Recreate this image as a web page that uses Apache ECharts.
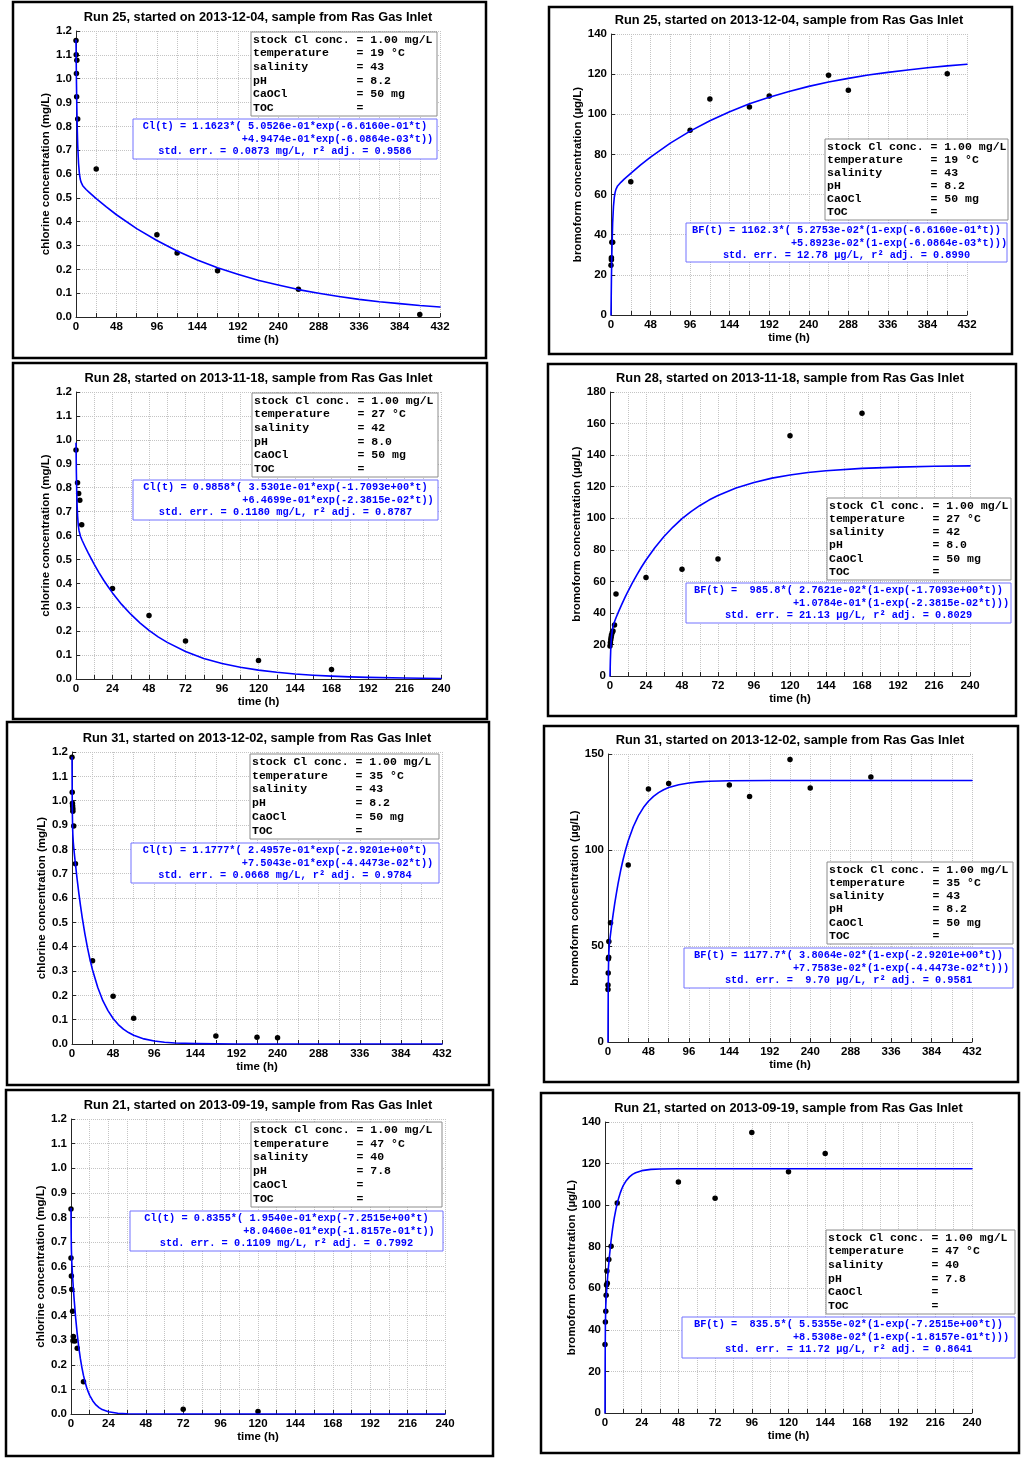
<!DOCTYPE html>
<html>
<head>
<meta charset="utf-8">
<title>Chlorine decay and bromoform formation, Ras Gas Inlet</title>
<script src="https://cdn.jsdelivr.net/npm/echarts@6/dist/echarts.min.js"></script>
<style>
  html, body { margin: 0; padding: 0; background: #fff; }
  #chart { width: 1024px; height: 1460px; }
</style>
</head>
<body>
<div id="chart"></div>
<script>
// ---- tick labels ----
const timeTicks432 = [0, 48, 96, 144, 192, 240, 288, 336, 384, 432];
const timeTicks240 = [0, 24, 48, 72, 96, 120, 144, 168, 192, 216, 240];
const clTicks = [0, 0.1, 0.2, 0.3, 0.4, 0.5, 0.6, 0.7, 0.8, 0.9, 1.0, 1.1, 1.2];
const bf140Ticks = [0, 20, 40, 60, 80, 100, 120, 140];
const bf180Ticks = [0, 20, 40, 60, 80, 100, 120, 140, 160, 180];
const bf150Ticks = [0, 50, 100, 150];

// ---- measured samples [time h, value] ----
const run25ClPoints = [[0, 1.16], [0.25, 1.10], [1, 1.077], [0.5, 1.022], [0.75, 0.924], [2, 0.831],
    [24, 0.621], [96, 0.345], [120, 0.269], [168, 0.194], [264, 0.116], [408, 0.010]];
const run25BfPoints = [[0, 24.8], [0.5, 27.5], [0.5, 28.5], [1, 36.2], [2, 36.2], [24, 66.4],
    [96, 92.0], [120, 107.6], [168, 103.6], [192, 109.1], [264, 119.4], [288, 112.0], [408, 120.2]];
const run28ClPoints = [[0, 0.957], [1, 0.821], [1.75, 0.776], [2.5, 0.747], [3.75, 0.645],
    [24, 0.378], [48, 0.266], [72, 0.159], [120, 0.077], [168, 0.040]];
const run28BfPoints = [[0, 19.0], [0.25, 21.0], [0.5, 23.0], [0.75, 24.5], [1, 26.0], [1.5, 27.5],
    [2, 28.5], [3, 32.3], [4, 52.0], [24, 62.5], [48, 67.6], [72, 74.1], [120, 152.3], [168, 166.5]];
const run31ClPoints = [[0, 1.178], [0.25, 1.035], [0.5, 0.989], [0.75, 0.978], [1, 0.967], [1, 0.956],
    [2, 0.896], [4, 0.741], [24, 0.342], [48, 0.196], [72, 0.106], [168, 0.033], [216, 0.028], [240, 0.026]];
const run31BfPoints = [[0, 27.4], [0, 29.7], [0.25, 35.9], [0.5, 43.4], [0.75, 44.1], [1, 52.3], [3, 62.1],
    [24, 92.2], [48, 131.8], [72, 134.6], [144, 133.9], [168, 127.8], [216, 147.2], [240, 132.3], [312, 138.0]];
const run21ClPoints = [[0, 0.834], [0, 0.635], [0.25, 0.561], [0.5, 0.506], [1, 0.418], [1.5, 0.315],
    [1.25, 0.298], [2.5, 0.297], [4, 0.267], [8, 0.131], [72, 0.019], [120, 0.010]];
const run21BfPoints = [[0, 33.0], [0.25, 43.8], [0.5, 48.9], [0.75, 56.6], [1, 61.6], [1.5, 62.4],
    [1.25, 68.3], [2.5, 73.8], [4, 80.2], [8, 101.0], [48, 111.1], [72, 103.3], [96, 135.0], [120, 116.1], [144, 124.9]];

// ---- fitted curves ----
const run25ClFit = [[0, 1.162], [0.5, 0.995], [1, 0.875], [1.5, 0.788], [2, 0.724], [3, 0.645], [4, 0.603],
    [5, 0.579], [6, 0.566], [8, 0.551], [12, 0.535], [16, 0.522], [24, 0.497], [36, 0.462], [48, 0.429],
    [72, 0.371], [96, 0.321], [120, 0.277], [144, 0.239], [168, 0.207], [192, 0.179], [216, 0.154],
    [240, 0.134], [264, 0.115], [288, 0.100], [312, 0.086], [336, 0.074], [360, 0.064], [384, 0.056],
    [408, 0.048], [432, 0.042]];
const run25BfFit = [[0, 0], [0.5, 17.5], [1, 30.1], [2, 45.8], [3, 54.1], [4, 58.6], [5, 61.1], [6, 62.6],
    [8, 64.3], [12, 66.1], [16, 67.7], [24, 70.6], [36, 74.8], [48, 78.7], [72, 85.6], [96, 91.6],
    [120, 96.8], [144, 101.3], [168, 105.2], [192, 108.5], [216, 111.4], [240, 113.9], [264, 116.1],
    [288, 117.9], [312, 119.6], [336, 120.9], [360, 122.1], [384, 123.2], [408, 124.1], [432, 124.9]];
const run28ClFit = [[0, 0.986], [0.25, 0.861], [0.5, 0.778], [0.75, 0.723], [1, 0.686], [1.5, 0.642],
    [2, 0.620], [3, 0.596], [4, 0.580], [6, 0.553], [8, 0.527], [10, 0.503], [12, 0.479], [15, 0.446],
    [18, 0.415], [21, 0.387], [24, 0.360], [30, 0.312], [36, 0.271], [42, 0.235], [48, 0.203], [54, 0.176],
    [60, 0.153], [72, 0.115], [84, 0.086], [96, 0.065], [108, 0.049], [120, 0.037], [132, 0.028],
    [144, 0.021], [156, 0.016], [168, 0.012], [180, 0.009], [192, 0.007], [216, 0.004], [240, 0.002]];
const run28BfFit = [[0, 0], [0.25, 10.1], [0.5, 16.9], [0.75, 21.6], [1, 24.8], [1.5, 28.9], [2, 31.3],
    [3, 34.4], [4, 36.9], [6, 41.4], [8, 45.7], [10, 49.8], [12, 53.7], [15, 59.2], [18, 64.3], [21, 69.1],
    [24, 73.5], [30, 81.5], [36, 88.4], [42, 94.4], [48, 99.7], [54, 104.2], [60, 108.1], [66, 111.5],
    [72, 114.4], [84, 119.2], [96, 122.7], [108, 125.4], [120, 127.4], [132, 129.0], [144, 130.1],
    [168, 131.6], [192, 132.4], [216, 132.9], [240, 133.2]];
const run31ClFit = [[0, 1.178], [0.25, 1.016], [0.5, 0.933], [0.75, 0.888], [1, 0.861], [1.5, 0.830],
    [2, 0.809], [3, 0.773], [4, 0.740], [6, 0.677], [8, 0.619], [10, 0.567], [12, 0.518], [15, 0.454],
    [18, 0.397], [21, 0.347], [24, 0.304], [30, 0.233], [36, 0.178], [42, 0.137], [48, 0.105], [54, 0.080],
    [60, 0.061], [66, 0.047], [72, 0.036], [84, 0.021], [96, 0.012], [108, 0.007], [120, 0.004],
    [144, 0.0015], [192, 0.0002], [288, 0], [432, 0]];
const run31BfFit = [[0, 0], [0.1, 11.8], [0.25, 24.2], [0.5, 36.4], [0.75, 42.8], [1, 46.4], [1.5, 50.2],
    [2, 52.5], [3, 56.2], [4, 59.7], [6, 66.2], [8, 72.2], [10, 77.6], [12, 82.6], [15, 89.3], [18, 95.2],
    [21, 100.3], [24, 104.8], [30, 112.1], [36, 117.8], [42, 122.1], [48, 125.4], [54, 127.9], [60, 129.9],
    [66, 131.4], [72, 132.5], [84, 134.0], [96, 134.9], [108, 135.5], [120, 135.8], [144, 136.1],
    [192, 136.2], [288, 136.2], [432, 136.2]];
const run21ClFit = [[0, 0.836], [0.05, 0.780], [0.1, 0.739], [0.25, 0.669], [0.5, 0.618], [1, 0.561],
    [1.5, 0.512], [2, 0.468], [3, 0.390], [4, 0.325], [5, 0.271], [6, 0.226], [7, 0.189], [8, 0.157],
    [9, 0.131], [10, 0.109], [11, 0.091], [12, 0.076], [14, 0.053], [16, 0.037], [18, 0.026], [20, 0.018],
    [24, 0.009], [30, 0.003], [36, 0.001], [48, 0], [240, 0]];
const run21BfFit = [[0, 0], [0.05, 14.7], [0.1, 25.1], [0.25, 41.9], [0.5, 51.2], [0.75, 55.1], [1, 58.1],
    [1.5, 63.2], [2, 68.0], [3, 76.2], [4, 83.1], [5, 88.8], [6, 93.6], [7, 97.5], [8, 100.9], [9, 103.6],
    [10, 105.9], [11, 107.9], [12, 109.5], [14, 111.9], [16, 113.6], [18, 114.8], [20, 115.6], [24, 116.6],
    [30, 117.2], [36, 117.4], [48, 117.5], [240, 117.5]];

// ---- run conditions ----
const infoLabels = ['stock Cl conc.', 'temperature', 'salinity', 'pH', 'CaOCl', 'TOC'];
const run25Info = ['1.00 mg/L', '19 °C', '43', '8.2', '50 mg', ''];
const run28Info = ['1.00 mg/L', '27 °C', '42', '8.0', '50 mg', ''];
const run31Info = ['1.00 mg/L', '35 °C', '43', '8.2', '50 mg', ''];
const run21Info = ['1.00 mg/L', '47 °C', '40', '7.8', '', ''];

// ---- fit annotations ----
const run25ClText = ['Cl(t) = 1.1623*( 5.0526e-01*exp(-6.6160e-01*t)', '+4.9474e-01*exp(-6.0864e-03*t))',
    'std. err. = 0.0873 mg/L, r² adj. = 0.9586'];
const run25BfText = ['BF(t) = 1162.3*( 5.2753e-02*(1-exp(-6.6160e-01*t))', '+5.8923e-02*(1-exp(-6.0864e-03*t)))',
    'std. err. = 12.78 µg/L, r² adj. = 0.8990'];
const run28ClText = ['Cl(t) = 0.9858*( 3.5301e-01*exp(-1.7093e+00*t)', '+6.4699e-01*exp(-2.3815e-02*t))',
    'std. err. = 0.1180 mg/L, r² adj. = 0.8787'];
const run28BfText = ['BF(t) =  985.8*( 2.7621e-02*(1-exp(-1.7093e+00*t))', '+1.0784e-01*(1-exp(-2.3815e-02*t)))',
    'std. err. = 21.13 µg/L, r² adj. = 0.8029'];
const run31ClText = ['Cl(t) = 1.1777*( 2.4957e-01*exp(-2.9201e+00*t)', '+7.5043e-01*exp(-4.4473e-02*t))',
    'std. err. = 0.0668 mg/L, r² adj. = 0.9784'];
const run31BfText = ['BF(t) = 1177.7*( 3.8064e-02*(1-exp(-2.9201e+00*t))', '+7.7583e-02*(1-exp(-4.4473e-02*t)))',
    'std. err. =  9.70 µg/L, r² adj. = 0.9581'];
const run21ClText = ['Cl(t) = 0.8355*( 1.9540e-01*exp(-7.2515e+00*t)', '+8.0460e-01*exp(-1.8157e-01*t))',
    'std. err. = 0.1109 mg/L, r² adj. = 0.7992'];
const run21BfText = ['BF(t) =  835.5*( 5.5355e-02*(1-exp(-7.2515e+00*t))', '+8.5308e-02*(1-exp(-1.8157e-01*t)))',
    'std. err. = 11.72 µg/L, r² adj. = 0.8641'];

const CL_NAME = 'chlorine concentration (mg/L)';
const BF_NAME = 'bromoform concentration (µg/L)';

// panel boxes in page pixels: frame / plot / info box / fit box  [x, y, w, h]
const layouts = [
    { frame: [13, 2, 473, 356],    grid: [76, 31, 364, 286],    info: [251, 32, 186, 84],    fit: [133, 119, 304, 40], nameGap: 22 },
    { frame: [549, 7, 463, 347],   grid: [611, 34, 356, 281],   info: [825, 139, 183, 81],   fit: [686, 223, 321, 39], nameGap: 26 },
    { frame: [13, 363, 474, 356],  grid: [76, 392, 365, 287],   info: [252, 393, 186, 84],   fit: [133, 480, 305, 40], nameGap: 22 },
    { frame: [548, 364, 468, 352], grid: [610, 392, 360, 284],  info: [827, 498, 184, 82],   fit: [686, 583, 325, 40], nameGap: 26 },
    { frame: [7, 722, 482, 363],   grid: [72, 752, 370, 292],   info: [250, 754, 189, 85],   fit: [131, 843, 308, 40], nameGap: 23 },
    { frame: [544, 726, 474, 356], grid: [608, 754, 364, 288],  info: [827, 862, 186, 82],   fit: [684, 948, 329, 40], nameGap: 26 },
    { frame: [6, 1090, 487, 366],  grid: [71, 1119, 374, 295],  info: [251, 1122, 191, 85],  fit: [130, 1211, 313, 40], nameGap: 24 },
    { frame: [541, 1093, 478, 360], grid: [605, 1122, 367, 291], info: [826, 1230, 189, 84], fit: [682, 1317, 333, 41], nameGap: 27 }
];

const panels = [
    { run: 'Run 25, started on 2013-12-04', points: run25ClPoints, fit: run25ClFit, xTicks: timeTicks432, yTicks: clTicks, yName: CL_NAME, info: run25Info, note: run25ClText },
    { run: 'Run 25, started on 2013-12-04', points: run25BfPoints, fit: run25BfFit, xTicks: timeTicks432, yTicks: bf140Ticks, yName: BF_NAME, info: run25Info, note: run25BfText },
    { run: 'Run 28, started on 2013-11-18', points: run28ClPoints, fit: run28ClFit, xTicks: timeTicks240, yTicks: clTicks, yName: CL_NAME, info: run28Info, note: run28ClText },
    { run: 'Run 28, started on 2013-11-18', points: run28BfPoints, fit: run28BfFit, xTicks: timeTicks240, yTicks: bf180Ticks, yName: BF_NAME, info: run28Info, note: run28BfText },
    { run: 'Run 31, started on 2013-12-02', points: run31ClPoints, fit: run31ClFit, xTicks: timeTicks432, yTicks: clTicks, yName: CL_NAME, info: run31Info, note: run31ClText },
    { run: 'Run 31, started on 2013-12-02', points: run31BfPoints, fit: run31BfFit, xTicks: timeTicks432, yTicks: bf150Ticks, yName: BF_NAME, info: run31Info, note: run31BfText },
    { run: 'Run 21, started on 2013-09-19', points: run21ClPoints, fit: run21ClFit, xTicks: timeTicks240, yTicks: clTicks, yName: CL_NAME, info: run21Info, note: run21ClText },
    { run: 'Run 21, started on 2013-09-19', points: run21BfPoints, fit: run21BfFit, xTicks: timeTicks240, yTicks: bf140Ticks, yName: BF_NAME, info: run21Info, note: run21BfText }
];

const SANS = "'Liberation Sans', Arial, sans-serif";
const MONO = "'Liberation Mono', 'Courier New', monospace";
const AXIS_COLOR = '#262626';
const INFO_SIZE = 11.5;
const NOTE_SIZE = 10.3;

const ChartPage = {
    chart: null,

    init() {
        this.chart = echarts.init(document.getElementById('chart'), null, { renderer: 'canvas' });
        this.chart.setOption(this.buildOption());
    },

    text(x, y, str, font, color, align) {
        return {
            type: 'text', z: 101, silent: true,
            style: {
                x: x, y: y, text: str, font: font, fill: color,
                align: align, verticalAlign: 'middle', textAlign: align, textVerticalAlign: 'middle'
            }
        };
    },

    rect(r, fill, stroke, width) {
        return {
            type: 'rect', z: 100, silent: true,
            shape: { x: r[0], y: r[1], width: r[2], height: r[3] },
            style: { fill: fill, stroke: stroke, lineWidth: width }
        };
    },

    axisText() {
        return { color: '#000', fontSize: 11.5, fontWeight: 'bold', fontFamily: SANS };
    },

    buildOption() {
        const option = { animation: false, backgroundColor: '#fff', grid: [], xAxis: [], yAxis: [], series: [], graphic: { elements: [] } };
        const els = option.graphic.elements;

        panels.forEach((p, i) => {
            const L = layouts[i];
            const g = L.grid;
            const xStep = p.xTicks[1] - p.xTicks[0];
            const yStep = p.yTicks[1] - p.yTicks[0];
            const yDigits = yStep < 1 ? 1 : 0;

            option.grid.push({ left: g[0], top: g[1], width: g[2], height: g[3], containLabel: false });

            option.xAxis.push({
                gridIndex: i, type: 'value', min: 0, max: p.xTicks[p.xTicks.length - 1], interval: xStep / 2,
                name: 'time (h)', nameLocation: 'middle', nameGap: 17, nameTextStyle: this.axisText(),
                axisLine: { show: true, onZero: false, lineStyle: { color: AXIS_COLOR, width: 1 } },
                axisTick: { show: true, inside: true, length: 4, lineStyle: { color: AXIS_COLOR } },
                axisLabel: Object.assign(this.axisText(), {
                    margin: 4, showMinLabel: true, showMaxLabel: true, hideOverlap: false,
                    formatter: v => (p.xTicks.indexOf(v) >= 0 ? String(v) : '')
                }),
                splitLine: { show: true, lineStyle: { color: '#c4c4c4', type: 'dotted', width: 1 } }
            });

            option.yAxis.push({
                gridIndex: i, type: 'value', min: 0, max: p.yTicks[p.yTicks.length - 1], interval: yStep,
                name: p.yName, nameLocation: 'middle', nameRotate: 90, nameGap: L.nameGap, nameTextStyle: this.axisText(),
                axisLine: { show: true, onZero: false, lineStyle: { color: AXIS_COLOR, width: 1 } },
                axisTick: { show: true, inside: true, length: 4, lineStyle: { color: AXIS_COLOR } },
                axisLabel: Object.assign(this.axisText(), {
                    margin: 4, showMinLabel: true, showMaxLabel: true, hideOverlap: false,
                    formatter: v => v.toFixed(yDigits)
                }),
                splitLine: { show: true, lineStyle: { color: '#c4c4c4', type: 'dotted', width: 1 } }
            });

            // fitted curve under the dots
            option.series.push({
                type: 'line', xAxisIndex: i, yAxisIndex: i, data: p.fit, showSymbol: false,
                smooth: false, clip: true, silent: true,
                lineStyle: { color: '#0000ff', width: 1.6, join: 'round', cap: 'round' }
            });
            option.series.push({
                type: 'scatter', xAxisIndex: i, yAxisIndex: i, data: p.points, symbol: 'circle',
                symbolSize: 5.5, clip: false, silent: true, itemStyle: { color: '#000', opacity: 1 }
            });

            // frame and title
            els.push(this.rect(L.frame, 'none', '#000', 2.5));
            els.push(this.text(g[0] + g[2] / 2, g[1] - 14, p.run + ', sample from Ras Gas Inlet',
                'bold 12.8px ' + SANS, '#000', 'center'));

            // run conditions box
            const inf = L.info;
            els.push(this.rect(inf, '#fff', '#8c8c8c', 1));
            const rowStep = (inf[3] - 16) / 5;
            infoLabels.forEach((lab, r) => {
                const line = lab.padEnd(15, ' ') + '= ' + p.info[r];
                els.push(this.text(inf[0] + 2, inf[1] + 8 + r * rowStep, line,
                    'bold ' + INFO_SIZE + 'px ' + MONO, '#000', 'left'));
            });

            // fit equation box
            const f = L.fit;
            const cw = NOTE_SIZE * 0.6;
            const cx = f[0] + f[2] / 2;
            const x0 = cx - p.note[0].length * cw / 2;
            const noteFont = 'bold ' + NOTE_SIZE + 'px ' + MONO;
            els.push(this.rect(f, '#fff', '#7373ff', 1));
            els.push(this.text(x0, f[1] + 7.5, p.note[0], noteFont, '#0000ff', 'left'));
            els.push(this.text(x0 + 16 * cw, f[1] + 20, p.note[1], noteFont, '#0000ff', 'left'));
            els.push(this.text(cx, f[1] + 32.5, p.note[2], noteFont, '#0000ff', 'center'));
        });

        return option;
    }
};

window.onload = () => ChartPage.init();
</script>
</body>
</html>
